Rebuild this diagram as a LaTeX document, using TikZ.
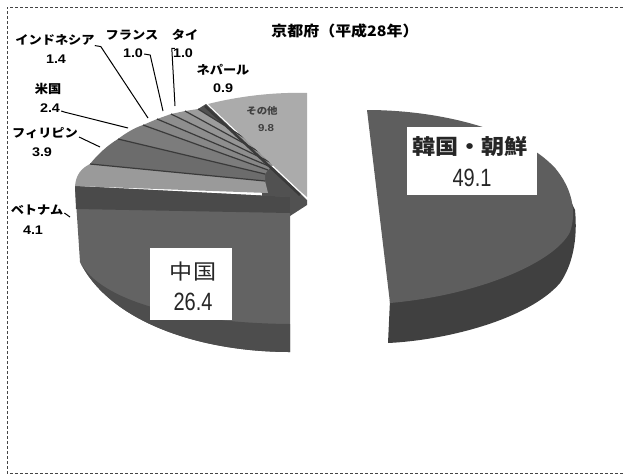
\documentclass[tikz,border=0pt]{standalone}
\usepackage{fontspec}
\setmainfont{Noto Sans CJK JP}[FakeStretch=1.1]
\newfontfamily\numb{Liberation Sans}[FakeStretch=1.15]
\newfontfamily\numc{Liberation Sans}[FakeStretch=0.8]
\definecolor{korTop}{HTML}{5E5E5E}
\definecolor{korSide}{HTML}{404040}
\definecolor{chBody}{HTML}{636363}
\definecolor{chTop}{HTML}{4A4A4A}
\definecolor{chSide}{HTML}{4D4D4D}
\definecolor{hub}{HTML}{515151}
\definecolor{cViet}{HTML}{9A9A9A}
\definecolor{cPhil}{HTML}{6C6C6C}
\definecolor{cUS}{HTML}{7C7C7C}
\definecolor{cIdn}{HTML}{878787}
\definecolor{cFra}{HTML}{8E8E8E}
\definecolor{cTha}{HTML}{959595}
\definecolor{cNep}{HTML}{9C9C9C}
\definecolor{cOth}{HTML}{ABABAB}
\definecolor{edgeC}{HTML}{3A3A3A}
\definecolor{frameC}{HTML}{444444}
\begin{document}
\begin{tikzpicture}[x=1pt,y=-1pt,
  lab/.style={font=\bfseries\fontsize{12}{12}\selectfont, inner sep=0pt, text=black},
  val/.style={font=\numb\bfseries\fontsize{12.5}{12.5}\selectfont, inner sep=0pt, text=black},
  title/.style={font=\bfseries\fontsize{14.5}{14.5}\selectfont, inner sep=0pt, text=black},
  boxlab/.style={font=\bfseries\fontsize{21}{21}\selectfont, inner sep=0pt, text=black!85},
  boxlabc/.style={font=\fontsize{21}{21}\selectfont, inner sep=0pt, text=black!85},
  boxval/.style={font=\numc\fontsize{25}{25}\selectfont, inner sep=0pt, text=black!85},
  whitebox/.style={fill=white, inner sep=0pt},
  othlab/.style={font=\bfseries\fontsize{9.5}{9.5}\selectfont, inner sep=0pt, text=black!75},
  leader/.style={draw=black, line width=1pt},
  stripe/.style={draw=edgeC, line width=1.2pt, line join=round},
  frameline/.style={draw=frameC, line width=0.9pt, densely dashed}]
\useasboundingbox[fill=white] (0,0) rectangle (623,475);

% frame
\draw[frameline] (623,7) -- (7,7) -- (7,473) -- (623,473);

% title
\node[title] (ttl) at (345,31) {京都府（平成28年）};

% ---------- Korea slice (exploded, right) ----------
\fill[korSide] (390,300) -- (388,343)
  .. controls (450,340) and (530,318) .. (560,283)
  .. controls (572,266) and (578,240) .. (575,210)
  -- (555,168) -- cycle;
\fill[korTop] (367,110)
  .. controls (440,110) and (520,130) .. (555,168)
  .. controls (572,188) and (577,212) .. (570,232)
  .. controls (555,262) and (480,295) .. (390,303) -- cycle;
\node[whitebox, minimum width=130pt, minimum height=68pt] (korbox) at (472,161) {};
\node[boxlab] (kortxt) at (470,147) {韓国・朝鮮};
\node[boxval] (korval) at (472,178) {49.1};

% ---------- left part ----------
% hub (side walls near centre)
\fill[hub] (198,109) -- (206,104) -- (303,196) -- (307,200) -- (307,205) -- (290,216) -- (262,200) -- (262,165) -- cycle;

% China body
\fill[chBody] (75,186) -- (290,197) -- (290,352) .. controls (200,352) and (110,322) .. (80,262) -- cycle;
\fill[chSide] (290,352) .. controls (200,352) and (110,322) .. (80,262)
  .. controls (100,300) and (180,323) .. (290,324) -- cycle;
\fill[chTop] (75,186) -- (290,197) -- (290,213) -- (76,209) -- cycle;

% small slices (outer points P, inner points Q)
\coordinate (P0) at (75,186);  \coordinate (Q0) at (268,193);
\coordinate (P1) at (90,164);  \coordinate (Q1) at (265,181);
\coordinate (P2) at (118,139); \coordinate (Q2) at (265,174);
\coordinate (P3) at (143,125); \coordinate (Q3) at (268,170);
\coordinate (P4) at (157,119); \coordinate (Q4) at (271,167);
\coordinate (P5) at (171,114); \coordinate (Q5) at (274,164);
\coordinate (P6) at (185,111); \coordinate (Q6) at (278,162);
\coordinate (P7) at (198,109); \coordinate (Q7) at (282,161);

\fill[cViet] (P0) .. controls (76,174) and (82,168) .. (P1) -- (Q1) -- (Q0) -- cycle;
\fill[cPhil] (P1) .. controls (98,154) and (108,145) .. (P2) -- (Q2) -- (Q1) -- cycle;
\fill[cUS] (P2) .. controls (126,133) and (134,128) .. (P3) -- (Q3) -- (Q2) -- cycle;
\fill[cIdn] (P3) -- (P4) -- (Q4) -- (Q3) -- cycle;
\fill[cFra] (P4) -- (P5) -- (Q5) -- (Q4) -- cycle;
\fill[cTha] (P5) -- (P6) -- (Q6) -- (Q5) -- cycle;
\fill[cNep] (P6) -- (P7) -- (Q7) -- (Q6) -- cycle;
\draw[stripe] (P1) -- (Q1);
\draw[stripe] (P2) -- (Q2);
\draw[stripe] (P3) -- (Q3);
\draw[stripe] (P4) -- (Q4);
\draw[stripe] (P5) -- (Q5);
\draw[stripe] (P6) -- (Q6);
\draw[stripe] (P7) -- (Q7);

% Others slice (exploded)
\fill[cOth] (208,104) .. controls (240,96) and (275,92) .. (307,93) -- (307,197) -- (300,191) -- cycle;
\draw[edgeC, line width=2.5pt] (205,106) -- (300,195);

% China label box
\node[whitebox, minimum width=82pt, minimum height=72pt] (chbox) at (191,284) {};
\node[boxlabc] (chtxt) at (193,272) {中国};
\node[boxval] (chval) at (193,302) {26.4};

% Others label
\node[othlab] (othtxt) at (262,111) {その他};
\node[othlab, font=\numb\bfseries\fontsize{10}{10}\selectfont] (othval) at (266,128) {9.8};

% ---------- outside labels ----------
\node[lab] (idn) at (55,40) {インドネシア};
\node[val] (idnv) at (56,59) {1.4};
\node[lab] (fra) at (132,35) {フランス};
\node[val] (frav) at (133,53) {1.0};
\node[lab] (tha) at (185,35) {タイ};
\node[val] (thav) at (183,53) {1.0};
\node[lab] (nep) at (223,70) {ネパール};
\node[val] (nepv) at (223,88) {0.9};
\node[lab] (usa) at (48,89) {米国};
\node[val] (usav) at (50,108) {2.4};
\node[lab] (phl) at (45,133) {フィリピン};
\node[val] (phlv) at (42,152) {3.9};
\node[lab] (vnm) at (37,210) {ベトナム};
\node[val] (vnmv) at (33,230) {4.1};

% leader end points
\coordinate (idnE) at (148,118);
\coordinate (fraE) at (163,111);
\coordinate (thaE) at (175,106);
\coordinate (usaE) at (128,128);
\coordinate (phlE) at (100,147);
\coordinate (vnmE) at (70,217);

\draw[leader] (idn.south east) -- ++(6,1) -- (idnE);
\draw[leader] (frav.east) ++(1,1) -- ++(6,1) -- (fraE);
\draw[leader] (thav.north west) ++(2,0) -- ++(-3,0) -- (thaE);
\draw[leader] (usav.east) ++(1,3) -- ++(3,1) -- (usaE);
\draw[leader] (phl.east) ++(1,4) -- (phlE);
\draw[leader] (vnm.east) ++(1,3) -- (vnmE);
\end{tikzpicture}
\end{document}
